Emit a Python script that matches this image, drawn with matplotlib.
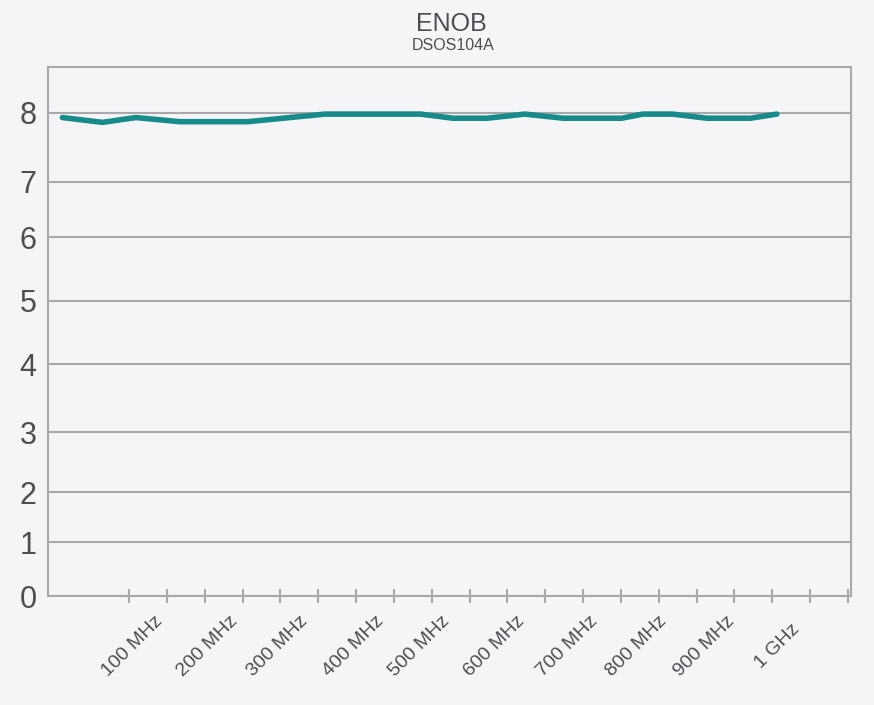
import numpy as np
import matplotlib
matplotlib.use('Agg')
import matplotlib.pyplot as plt

# ENOB vs frequency
freq_mhz = [12, 65, 109, 167, 257, 359, 485, 528, 573, 623, 674, 751, 779, 818, 864, 921, 956]
enob = [7.93, 7.86, 7.93, 7.87, 7.87, 7.98, 7.98, 7.92, 7.92, 7.98, 7.92, 7.92, 7.98, 7.98, 7.92, 7.92, 7.98]

label_pos = [105, 203, 296, 396, 484, 583, 679, 771, 860, 957]
label_txt = ['100 MHz', '200 MHz', '300 MHz', '400 MHz', '500 MHz',
             '600 MHz', '700 MHz', '800 MHz', '900 MHz', '1 GHz']
y_ticks = [0, 1, 2, 3, 4, 5, 6, 7, 8]

# the original axis has uneven gridline spacing -> piecewise linear scale
scale_vals = [-1, 0, 1, 2, 3, 4, 5, 6, 7, 8, 9]
scale_pos = [-55, 0, 53.7, 103.7, 163.7, 232, 295.3, 358.7, 414.3, 483.3, 552.3]


def fwd(v):
    return np.interp(v, scale_vals, scale_pos)


def inv(p):
    return np.interp(p, scale_pos, scale_vals)


plt.rcParams['font.family'] = ['Liberation Sans', 'DejaVu Sans']

bg = '#f5f5f8'
grey = '#a9a9ad'
txt = '#4d4d52'

fig = plt.figure(figsize=(8.74, 7.05), dpi=100, facecolor=bg)
ax = fig.add_axes([0.0546, 0.1546, 0.9191, 0.7508], facecolor=bg)

ax.set_yscale('function', functions=(fwd, inv))
ax.set_ylim(0, 8.667)
ax.set_xlim(-7.4, 1054)

ax.plot(freq_mhz, enob, color='#178a8a', lw=4, solid_joinstyle='round',
        solid_capstyle='round', zorder=3)

ax.set_yticks(y_ticks)
ax.set_yticklabels([str(v) for v in y_ticks])
ax.tick_params(axis='y', length=0, pad=8, labelsize=22, labelcolor=txt)
ax.yaxis.grid(True, color=grey, lw=1.5)
ax.set_axisbelow(True)

ax.set_xticks(label_pos)
ax.set_xticklabels(label_txt, rotation=45, ha='center', va='center')
ax.set_xticks(np.arange(100, 1051, 50), minor=True)
ax.tick_params(axis='x', which='major', length=0, pad=36, labelsize=14, labelcolor=txt)
ax.tick_params(axis='x', which='minor', direction='inout', length=10, width=1.5, color=grey)

for s in ax.spines.values():
    s.set_color(grey)
    s.set_linewidth(1.5)

fig.text(0.516, 0.966, 'ENOB', ha='center', va='center', fontsize=18, color=txt)
fig.text(0.518, 0.935, 'DSOS104A', ha='center', va='center', fontsize=11.5, color=txt)

fig.savefig('out.png', dpi=100, facecolor=bg)
